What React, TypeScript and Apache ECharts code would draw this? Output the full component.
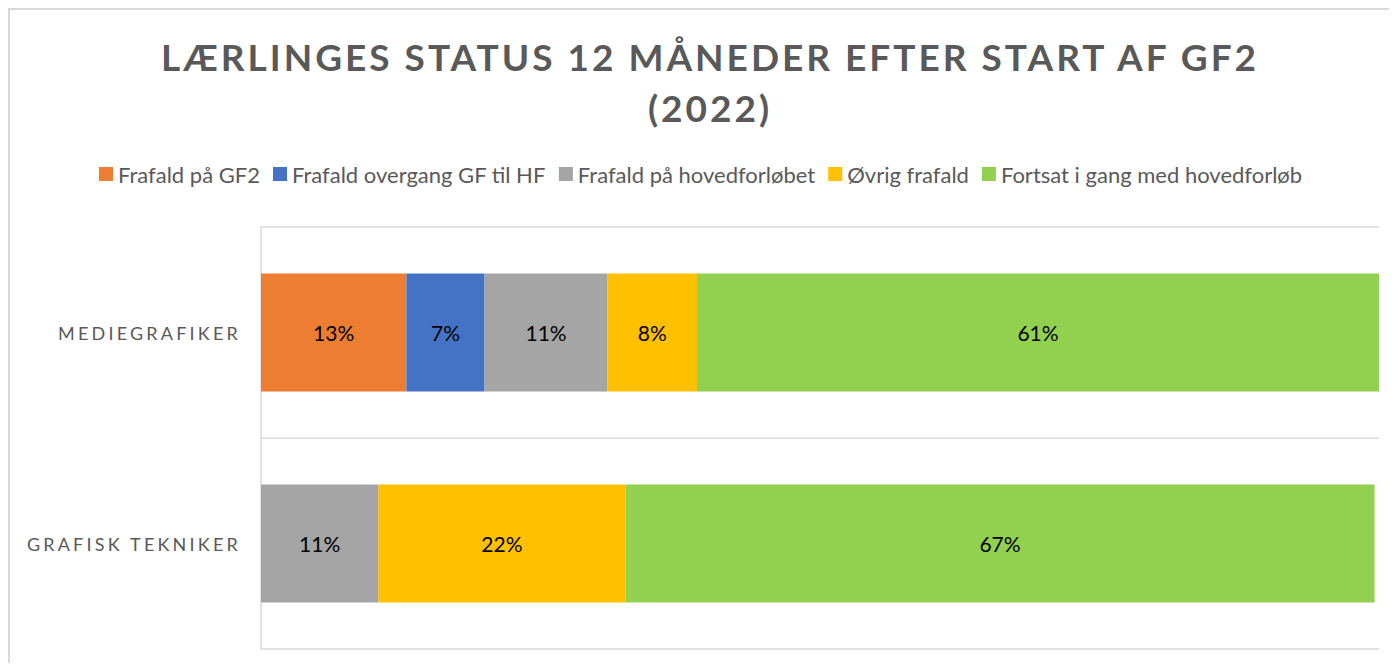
import React, { useEffect, useRef } from "react";
import * as echarts from "echarts";

const titleLine1 = "LÆRLINGES STATUS 12 MÅNEDER EFTER START AF GF2";
const titleLine2 = "(2022)";
const categories = ["MEDIEGRAFIKER", "GRAFISK TEKNIKER"];
const seriesNames = [
  "Frafald på GF2",
  "Frafald overgang GF til HF",
  "Frafald på hovedforløbet",
  "Øvrig frafald",
  "Fortsat i gang med hovedforløb",
];
const frafaldGF2 = [13, null];
const frafaldOvergang = [7, null];
const frafaldHovedforloeb = [11, 10.5];
const oevrigFrafald = [8, 22.1];
const fortsat = [61, 67.0];
const seriesColors = ["#ED7D31", "#4472C4", "#A5A5A5", "#FFC000", "#92D050"];

const FONT = "Lato, 'Open Sans', sans-serif";

export default function App() {
  const ref = useRef<HTMLDivElement>(null);
  useEffect(() => {
    const el = ref.current!;
    const chart = echarts.init(el, undefined, { renderer: "svg" });
    const allData = [frafaldGF2, frafaldOvergang, frafaldHovedforloeb, oevrigFrafald, fortsat];
    chart.setOption({
      animation: false,
      graphic: [
        { type: "line", shape: { x1: 1, y1: 0, x2: 1, y2: 663 }, style: { stroke: "#d9d9d9", lineWidth: 2 } },
        { type: "line", shape: { x1: 0, y1: 1, x2: 1389, y2: 1 }, style: { stroke: "#d9d9d9", lineWidth: 2 } },
        {
          type: "text",
          x: 702,
          y: 48,
          style: { text: titleLine1, font: `bold 37px ${FONT}`, fill: "#595959", align: "center", verticalAlign: "middle" },
        },
        {
          type: "text",
          x: 702,
          y: 99,
          style: { text: titleLine2, font: `bold 37px ${FONT}`, fill: "#595959", align: "center", verticalAlign: "middle" },
        },
      ],
      legend: {
        left: 86,
        top: 150,
        icon: "rect",
        itemWidth: 14,
        itemHeight: 14,
        itemGap: 13,
        textStyle: { fontFamily: FONT, fontSize: 22, color: "#595959" },
        data: seriesNames,
      },
      grid: { left: 253, top: 219, width: 1118, height: 422, containLabel: false },
      xAxis: {
        type: "value",
        min: 0,
        max: 100,
        show: false,
      },
      yAxis: {
        type: "category",
        inverse: true,
        data: categories,
        axisLine: { show: true, lineStyle: { color: "#d9d9d9", width: 1.5 } },
        axisTick: { show: false },
        splitLine: { show: true, lineStyle: { color: "#d9d9d9", width: 1.5 } },
        axisLabel: { color: "#595959", fontFamily: FONT, fontSize: 18, margin: 20 },
      },
      series: seriesNames.map((name, i) => ({
        name,
        type: "bar",
        stack: "total",
        barWidth: 118,
        data: allData[i],
        itemStyle: { color: seriesColors[i] },
        label: {
          show: true,
          position: "inside",
          color: "#000",
          fontFamily: FONT,
          fontSize: 21,
          formatter: (p: any) => (p.value == null ? "" : Math.round(p.value) + "%"),
        },
      })),
    });
    const applySpacing = () => {
      el.querySelectorAll("text").forEach((t) => {
        const s = t.textContent || "";
        if (s === titleLine1 || s === titleLine2) t.setAttribute("letter-spacing", "3");
        else if (categories.includes(s)) t.setAttribute("letter-spacing", "3.2");
      });
    };
    applySpacing();
    chart.on("finished", applySpacing);
    return () => chart.dispose();
  }, []);
  return <div ref={ref} style={{ width: 1389, height: 655 }} />;
}
